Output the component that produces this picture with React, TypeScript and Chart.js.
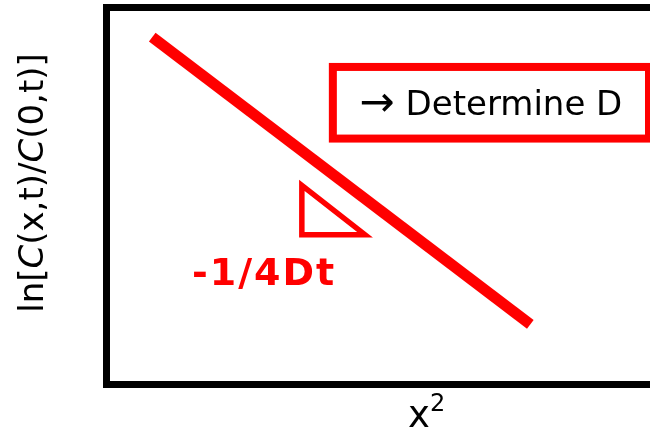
import React, { useEffect, useRef } from "react";
import { Chart, registerables } from "chart.js";

Chart.register(...registerables);

// Main red line (x², ln ratio) endpoints
const lineX = [0.85, 7.8];
const lineY = [9.2, 1.58];

// Slope triangle
const triX = [3.6, 3.6, 4.76, 3.6, 3.6];
const triY = [5.27, 3.96, 3.96, 5.27, 3.96];

// Axis ranges
const xRange = [0, 10];
const yRange = [0, 10];

// Texts
const slopeLabel = "-1/4Dt";
const boxLabel = "\u2192 Determine D";
const xLabel = "x";
const xLabelSup = "2";
const yLabelParts: [string, boolean][] = [
  ["ln[", false],
  ["C", true],
  ["(x,t)/", false],
  ["C", true],
  ["(0,t)]", false],
];

const RED = "#ff0000";

const annotationPlugin = {
  id: "annotations",
  afterDatasetsDraw(chart: any) {
    const ctx = chart.ctx as CanvasRenderingContext2D;
    const xs = chart.scales.x;
    const ys = chart.scales.y;
    const ca = chart.chartArea;
    ctx.save();

    // Determine D box
    const bx1 = xs.getPixelForValue(4.17);
    const bx2 = ca.right - 1;
    const by1 = ys.getPixelForValue(8.41);
    const by2 = ys.getPixelForValue(6.51);
    ctx.strokeStyle = RED;
    ctx.lineWidth = 8;
    ctx.lineJoin = "miter";
    ctx.strokeRect(bx1, by1, bx2 - bx1, by2 - by1);
    ctx.fillStyle = "#000";
    ctx.textAlign = "left";
    ctx.textBaseline = "alphabetic";
    ctx.font = "34px 'DejaVu Sans'";
    const arrow = boxLabel.slice(0, 1);
    const rest = boxLabel.slice(1);
    ctx.font = "42px 'DejaVu Sans'";
    const aw = ctx.measureText(arrow).width;
    ctx.font = "34px 'DejaVu Sans'";
    const rw = ctx.measureText(rest).width;
    const startX = (bx1 + bx2) / 2 - (aw + rw) / 2;
    const base = by1 + 48;
    ctx.font = "42px 'DejaVu Sans'";
    ctx.fillText(arrow, startX, base + 1);
    ctx.font = "34px 'DejaVu Sans'";
    ctx.fillText(rest, startX + aw, base);

    // slope label
    ctx.fillStyle = RED;
    ctx.font = "bold 38px 'DejaVu Sans'";
    ctx.textAlign = "left";
    (ctx as any).letterSpacing = "2px";
    ctx.fillText(slopeLabel, xs.getPixelForValue(1.58), ys.getPixelForValue(2.62));
    (ctx as any).letterSpacing = "0px";

    // x label
    ctx.fillStyle = "#000";
    ctx.font = "37px 'DejaVu Sans'";
    ctx.textAlign = "left";
    const xl = ca.left + 302;
    const xb = ca.bottom + 43;
    ctx.fillText(xLabel, xl, xb);
    const xw = ctx.measureText(xLabel).width;
    ctx.font = "24px 'DejaVu Sans'";
    ctx.fillText(xLabelSup, xl + xw, xb - 16);

    // y label (rotated, mixed italic)
    const fontN = "34px 'DejaVu Sans'";
    const fontI = "italic 34px 'DejaVu Sans'";
    let total = 0;
    for (const [t, it] of yLabelParts) {
      ctx.font = it ? fontI : fontN;
      total += ctx.measureText(t).width;
    }
    ctx.translate(43, 183);
    ctx.rotate(-Math.PI / 2);
    let cx = -total / 2;
    for (const [t, it] of yLabelParts) {
      ctx.font = it ? fontI : fontN;
      ctx.fillText(t, cx, 0);
      cx += ctx.measureText(t).width;
    }
    ctx.restore();
  },
};

export default function App() {
  const ref = useRef<HTMLCanvasElement>(null);
  useEffect(() => {
    if (!ref.current) return;
    const border = { display: true, width: 7, color: "#000" };
    const grid = { display: true, drawOnChartArea: false, drawTicks: false, color: "rgba(0,0,0,0)" };
    const chart = new Chart(ref.current, {
      type: "scatter",
      data: {
        datasets: [
          {
            data: lineX.map((x, i) => ({ x, y: lineY[i] })),
            showLine: true,
            borderColor: RED,
            borderWidth: 11,
            borderCapStyle: "butt",
            pointRadius: 0,
            clip: false,
          },
          {
            data: triX.map((x, i) => ({ x, y: triY[i] })),
            showLine: true,
            borderColor: RED,
            borderWidth: 5.5,
            borderJoinStyle: "miter",
            borderCapStyle: "butt",
            pointRadius: 0,
            clip: false,
          },
        ],
      },
      options: {
        responsive: false,
        animation: false,
        layout: { padding: 0 },
        plugins: { legend: { display: false }, tooltip: { enabled: false }, title: { display: false } },
        scales: {
          x: {
            type: "linear",
            position: "bottom",
            min: xRange[0],
            max: xRange[1],
            ticks: { display: false },
            grid,
            border,
            afterFit: (s: any) => { s.height = 49; },
          },
          x2: {
            type: "linear",
            position: "top",
            min: xRange[0],
            max: xRange[1],
            ticks: { display: false },
            grid,
            border,
            afterFit: (s: any) => { s.height = 7; },
          },
          y: {
            type: "linear",
            position: "left",
            min: yRange[0],
            max: yRange[1],
            ticks: { display: false },
            grid,
            border,
            afterFit: (s: any) => { s.width = 106; },
          },
        },
      } as any,
      plugins: [annotationPlugin],
    });
    return () => chart.destroy();
  }, []);
  return (
    <div style={{ position: "absolute", left: 0, top: 0, width: 650, height: 433, background: "#fff" }}>
      <canvas ref={ref} width={650} height={433} />
    </div>
  );
}
